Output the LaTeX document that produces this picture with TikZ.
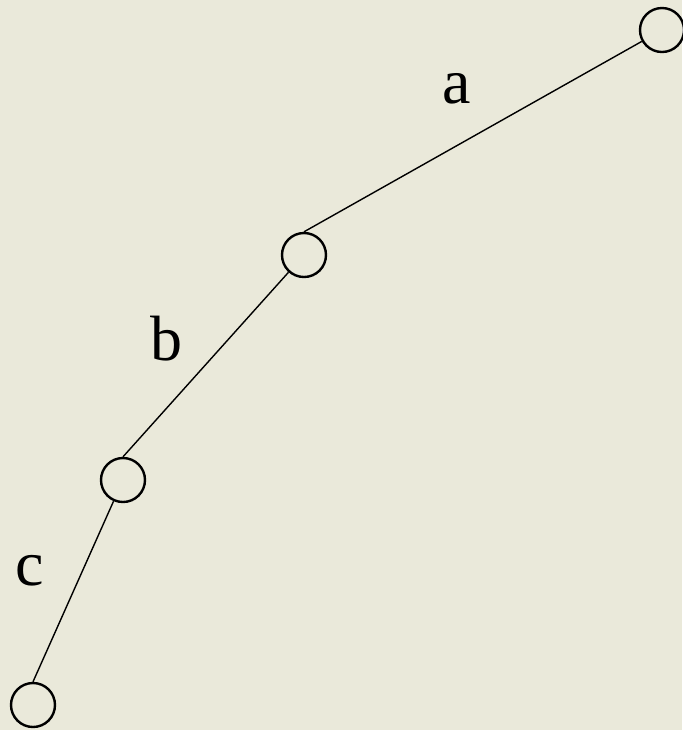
\documentclass[tikz,border=0pt]{standalone}
\usepackage{fontspec}
\setmainfont{Liberation Serif}
\definecolor{paper}{RGB}{234,233,218}
\tikzset{
  joint/.style={circle, draw, line width=1.2pt, minimum size=22pt, inner sep=0pt},
  link/.style={line width=0.7pt},
  seg/.style={anchor=base, font=\fontsize{32}{38}\selectfont}
}
\begin{document}
\begin{tikzpicture}[x=0.5pt, y=-0.5pt]
      % Draw the background
      \fill[paper] (0,0) rectangle (682,730);
      \useasboundingbox (0,0) rectangle (682,730);
      % Place the joints
      \node[joint] (j1) at (662,30) {};
      \node[joint] (j2) at (304,255) {};
      \node[joint] (j3) at (123,480) {};
      \node[joint] (j4) at (33,705) {};
      % Draw the links
      \draw[link] (j1) -- (j2.north);
      \draw[link] (j2) -- (j3.north);
      \draw[link] (j3) -- (j4.north);
      % Label the links
      \node[seg] (la) at (457,103) {a};
      \node[seg] (lb) at (166,360) {b};
      \node[seg] (lc) at (30,585) {c};
    \end{tikzpicture}
\end{document}
